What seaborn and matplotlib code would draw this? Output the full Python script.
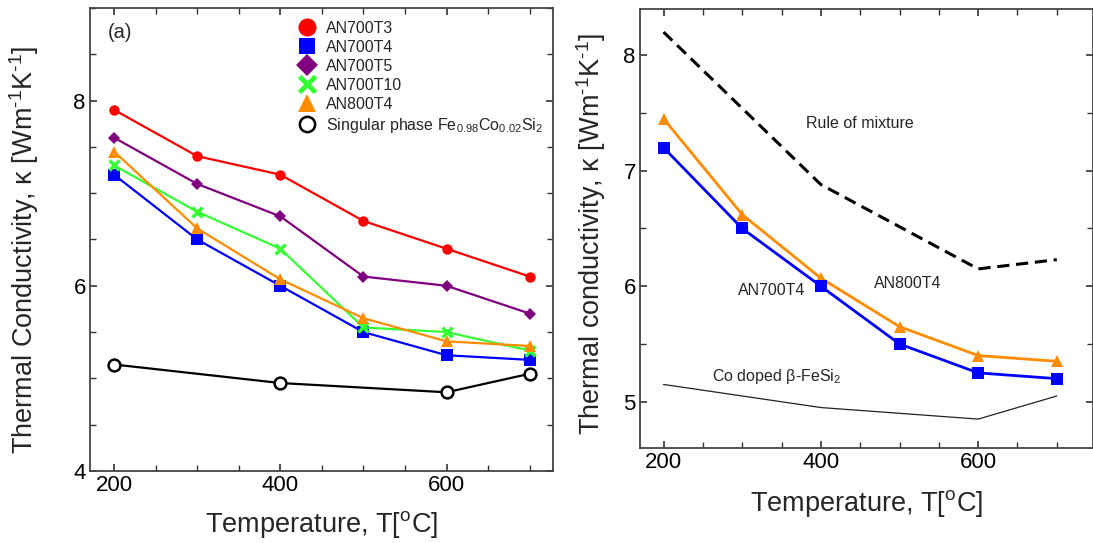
import numpy as np
import pandas as pd
import matplotlib
matplotlib.use("Agg")
import matplotlib.pyplot as plt
from matplotlib.lines import Line2D
from matplotlib.ticker import MultipleLocator
import seaborn as sns

# ---- data -------------------------------------------------------------
temps = [200, 300, 400, 500, 600, 700]
an700t3 = [7.9, 7.4, 7.2, 6.7, 6.4, 6.1]
an700t4 = [7.2, 6.5, 6.0, 5.5, 5.25, 5.2]
an700t5 = [7.6, 7.1, 6.75, 6.1, 6.0, 5.7]
an700t10 = [7.3, 6.8, 6.4, 5.55, 5.5, 5.3]
an800t4 = [7.45, 6.62, 6.07, 5.65, 5.4, 5.35]

single_temps = [200, 400, 600, 700]
single_phase = [5.15, 4.95, 4.85, 5.05]

mixture_temps = [200, 400, 600, 700]
rule_of_mixture = [8.2, 6.88, 6.15, 6.23]

series_labels = ["AN700T3", "AN700T4", "AN700T5", "AN700T10", "AN800T4"]
single_label = "Singular phase Fe$_{0.98}$Co$_{0.02}$Si$_2$"

# ---- style ------------------------------------------------------------
sns.set_theme(style="ticks")
plt.rcParams["font.family"] = ["Liberation Sans", "DejaVu Sans"]
plt.rcParams["mathtext.fontset"] = "custom"
plt.rcParams["mathtext.rm"] = "Liberation Sans"
plt.rcParams["mathtext.it"] = "Liberation Sans:italic"
plt.rcParams["mathtext.default"] = "regular"
plt.rcParams["xtick.direction"] = "in"
plt.rcParams["ytick.direction"] = "in"

colors = {"AN700T3": "#ff0000", "AN700T4": "#0000ff", "AN700T5": "#800080",
          "AN700T10": "#33ff33", "AN800T4": "#ff8c00"}
markers = {"AN700T3": "o", "AN700T4": "s", "AN700T5": "D",
           "AN700T10": "x", "AN800T4": "^"}
msizes = {"AN700T3": 7.5, "AN700T4": 8.5, "AN700T5": 6.2,
          "AN700T10": 7.0, "AN800T4": 8}
leg_sizes = {"AN700T3": 13, "AN700T4": 12, "AN700T5": 11,
             "AN700T10": 12, "AN800T4": 13}

fig = plt.figure(figsize=(10.93, 5.43), dpi=100)
ax1 = fig.add_axes([0.0823, 0.1326, 0.4236, 0.8527])
ax2 = fig.add_axes([0.5855, 0.175, 0.4145, 0.8085])

xlabel = "Temperature, T[$^{\\mathrm{o}}$C]"
ylab_units = " [Wm$^{\\text{-1}}$K$^{\\text{-1}}$]"


def style_axes(ax):
    ax.tick_params(which="both", direction="in", top=True, right=True,
                   colors="#333333", labelcolor="black", labelsize=16,
                   pad=3)
    ax.tick_params(which="major", length=5, width=1.2)
    ax.tick_params(which="minor", length=4, width=1.0)
    ax.xaxis.set_minor_locator(MultipleLocator(50))
    ax.yaxis.set_minor_locator(MultipleLocator(0.5))
    for sp in ax.spines.values():
        sp.set_color("#444444")
        sp.set_linewidth(1.3)


# ---- left panel -------------------------------------------------------
values = [an700t3, an700t4, an700t5, an700t10, an800t4]
for lab, vals in zip(series_labels, values):
    df = pd.DataFrame({"T": temps, "k": vals})
    mk = markers[lab]
    sns.lineplot(data=df, x="T", y="k", ax=ax1, color=colors[lab], marker=mk,
                 markersize=msizes[lab], linewidth=1.6,
                 markeredgewidth=2.5 if mk == "x" else 0,
                 markeredgecolor=colors[lab], legend=False)

df_s = pd.DataFrame({"T": single_temps, "k": single_phase})
sns.lineplot(data=df_s, x="T", y="k", ax=ax1, color="black", marker="o",
             markersize=8.5, markerfacecolor="white", markeredgecolor="black",
             markeredgewidth=1.8, linewidth=1.6, legend=False)

ax1.set_xlim(171, 728)
ax1.set_ylim(4, 9)
ax1.set_xticks([200, 400, 600])
ax1.set_yticks([4, 6, 8])
style_axes(ax1)
ax1.set_xlabel(xlabel, fontsize=19.5, labelpad=9)
ax1.set_ylabel("Thermal Conductivity, κ" + ylab_units, fontsize=19.5)
ax1.yaxis.set_label_coords(-0.106, 0.477)
ax1.text(0.039, 0.968, "(a)", transform=ax1.transAxes, fontsize=14.5,
         va="top", ha="left")

handles = []
for lab in series_labels:
    mk = markers[lab]
    handles.append(Line2D([], [], linestyle="none", marker=mk,
                          color=colors[lab], markersize=leg_sizes[lab],
                          markeredgewidth=3.5 if mk == "x" else 0,
                          label=lab))
handles.append(Line2D([], [], linestyle="none", marker="o",
                      markerfacecolor="white", markeredgecolor="black",
                      markeredgewidth=1.8, markersize=11, label=single_label))
ax1.legend(handles=handles, loc="upper left", bbox_to_anchor=(0.421, 1.0),
           frameon=False, fontsize=11.5, labelspacing=0.25, handlelength=1.2,
           handletextpad=0.6, borderpad=0.3)

# ---- right panel ------------------------------------------------------
df_m = pd.DataFrame({"T": mixture_temps, "k": rule_of_mixture})
sns.lineplot(data=df_m, x="T", y="k", ax=ax2, color="black", linewidth=2.2,
             linestyle=(0, (4, 2.2)), legend=False)

sns.lineplot(data=df_s, x="T", y="k", ax=ax2, color="#222222", linewidth=0.9,
             legend=False)

for lab, vals in [("AN800T4", an800t4), ("AN700T4", an700t4)]:
    df = pd.DataFrame({"T": temps, "k": vals})
    sns.lineplot(data=df, x="T", y="k", ax=ax2, color=colors[lab],
                 marker=markers[lab], markersize=9, markeredgewidth=0,
                 linewidth=2.0, legend=False)

ax2.set_xlim(170, 746)
ax2.set_ylim(4.6, 8.4)
ax2.set_xticks([200, 400, 600])
ax2.set_yticks([5, 6, 7, 8])
style_axes(ax2)
ax2.set_xlabel(xlabel, fontsize=19.5, labelpad=11)
ax2.set_ylabel("Thermal conductivity, κ" + ylab_units, fontsize=19.5)
ax2.yaxis.set_label_coords(-0.071, 0.487)

ax2.text(449, 7.41, "Rule of mixture", fontsize=11.5, ha="center", va="center")
ax2.text(338, 5.96, "AN700T4", fontsize=11.5, ha="center", va="center")
ax2.text(511, 6.02, "AN800T4", fontsize=11.5, ha="center", va="center")
ax2.text(344, 5.22, "Co doped β-FeSi$_2$", fontsize=11.5, ha="center",
         va="center")

fig.savefig("out.png", dpi=100)
